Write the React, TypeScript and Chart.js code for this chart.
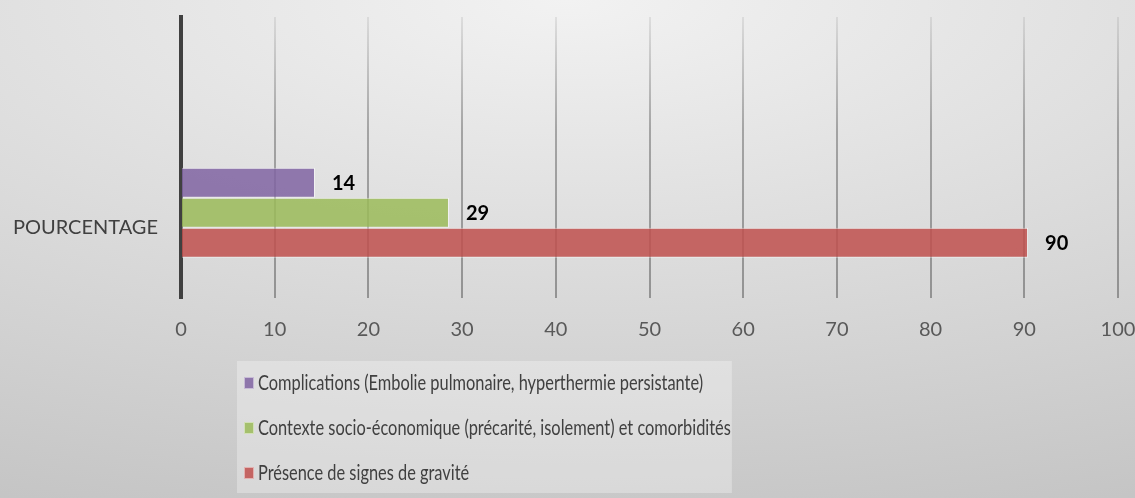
import { useEffect, useRef } from 'react';
import { Chart, registerables } from 'chart.js';

Chart.register(...registerables);

// ---- data ----
const categories = ['', 'POURCENTAGE'];
const seriesLabels = [
  'Complications (Embolie pulmonaire, hyperthermie persistante)',
  'Contexte socio-économique (précarité, isolement) et comorbidités',
  'Présence de signes de gravité',
];
const complications = [null, 14.3];
const contexte = [null, 28.6];
const gravite = [null, 90.4];
const emptySeries = [null, null];
const xMin = 0;
const xMax = 100;
const xStep = 10;

const seriesColors = ['rgba(128,100,162,0.85)', 'rgba(155,187,89,0.85)', 'rgba(192,80,77,0.85)'];

const FONT = 'Lato, "Open Sans", sans-serif';

const backgroundPlugin = {
  id: 'bgGradient',
  beforeDraw(chart: any) {
    const { ctx, width, height } = chart;
    const sx = 2.72;
    ctx.save();
    ctx.translate(width / 2, 0);
    ctx.scale(sx, 1);
    const g = ctx.createRadialGradient(0, 0, 0, 0, 0, 620);
    g.addColorStop(0, '#f2f2f2');
    g.addColorStop(1, '#bebebe');
    ctx.fillStyle = g;
    ctx.fillRect(-width / 2 / sx, 0, width / sx, height);
    ctx.restore();
  },
};

const valueLabelPlugin = {
  id: 'valueLabels',
  afterDatasetsDraw(chart: any) {
    const { ctx } = chart;
    ctx.save();
    ctx.font = `bold 20px ${FONT}`;
    ctx.fillStyle = '#000000';
    ctx.textAlign = 'left';
    ctx.textBaseline = 'middle';
    chart.data.datasets.forEach((ds: any, i: number) => {
      const meta = chart.getDatasetMeta(i);
      meta.data.forEach((el: any, j: number) => {
        const v = ds.data[j];
        if (v === null || v === undefined) return;
        ctx.fillText(String(Math.round(v)), el.x + 17, el.y + 1);
      });
    });
    ctx.restore();
  },
};

const legendPlugin = {
  id: 'customLegend',
  afterDraw(chart: any) {
    const { ctx } = chart;
    ctx.save();
    ctx.font = `21px ${FONT}`;
    const squeeze = 0.78;
    const boxLeft = 237;
    const boxTop = 361;
    const boxHeight = 132;
    const markerX = 244;
    const textX = 258;
    const rowY0 = 383;
    const rowGap = 45;
    const widths = seriesLabels.map((l) => ctx.measureText(l).width * squeeze);
    const boxRight = textX + Math.max(...widths) + 1;
    ctx.fillStyle = 'rgba(255,255,255,0.3)';
    ctx.fillRect(boxLeft, boxTop, boxRight - boxLeft, boxHeight);
    seriesLabels.forEach((label, i) => {
      const y = rowY0 + i * rowGap;
      ctx.fillStyle = seriesColors[i];
      ctx.fillRect(markerX, y - 6, 10, 12);
      ctx.strokeStyle = 'rgba(255,255,255,0.5)';
      ctx.lineWidth = 1;
      ctx.strokeRect(markerX + 0.5, y - 5.5, 9, 11);
      ctx.save();
      ctx.translate(textX, y);
      ctx.scale(squeeze, 1);
      ctx.fillStyle = '#404040';
      ctx.textAlign = 'left';
      ctx.textBaseline = 'middle';
      ctx.fillText(label, 0, 0);
      ctx.restore();
    });
    ctx.restore();
  },
};

export default function App() {
  const canvasRef = useRef<HTMLCanvasElement | null>(null);

  useEffect(() => {
    if (!canvasRef.current) return;
    const chart = new Chart(canvasRef.current, {
      type: 'bar',
      data: {
        labels: categories,
        datasets: [
          { label: seriesLabels[0], data: complications, backgroundColor: seriesColors[0] },
          { label: seriesLabels[1], data: contexte, backgroundColor: seriesColors[1] },
          { label: seriesLabels[2], data: gravite, backgroundColor: seriesColors[2] },
          { label: '', data: emptySeries, backgroundColor: 'rgba(0,0,0,0)' },
        ].map((d) => ({
          ...d,
          borderColor: 'rgba(255,255,255,0.55)',
          borderWidth: 1,
          barPercentage: 1,
          categoryPercentage: 0.854,
        })) as any,
      },
      options: {
        indexAxis: 'y',
        responsive: false,
        animation: false,
        layout: { padding: { left: 0, top: 17, right: 17, bottom: 150 } },
        plugins: {
          legend: { display: false },
          tooltip: { enabled: false },
        },
        scales: {
          x: {
            min: xMin,
            max: xMax,
            ticks: {
              stepSize: xStep,
              padding: 20,
              color: '#595959',
              font: { family: FONT, size: 20 },
            },
            border: { display: false },
            grid: {
              drawTicks: false,
              lineWidth: 2,
              color: (c: any) => {
                if (c.tick && c.tick.value === 0) return 'rgba(0,0,0,0)';
                const ch = c.chart;
                const area = ch.chartArea;
                if (!area) return 'rgba(128,128,128,0.6)';
                const g = ch.ctx.createLinearGradient(0, area.top, 0, area.bottom);
                g.addColorStop(0, 'rgba(120,120,120,0.15)');
                g.addColorStop(0.4, 'rgba(120,120,120,0.6)');
                g.addColorStop(1, 'rgba(120,120,120,0.72)');
                return g;
              },
            },
            afterFit: (scale: any) => {
              scale.height = 50;
              scale.paddingLeft = 0;
              scale.paddingRight = 0;
              scale.paddingTop = 0;
              scale.paddingBottom = 0;
            },
          },
          y: {
            ticks: {
              padding: 23,
              color: '#404040',
              font: { family: FONT, size: 20 },
            },
            grid: { display: false, drawTicks: false },
            border: { display: true, color: '#404040', width: 4 },
            afterFit: (scale: any) => {
              scale.width = 181;
              scale.paddingLeft = 0;
              scale.paddingRight = 0;
              scale.paddingTop = 0;
              scale.paddingBottom = 0;
            },
          },
        },
      } as any,
      plugins: [backgroundPlugin, valueLabelPlugin, legendPlugin],
    });
    return () => chart.destroy();
  }, []);

  return (
    <div style={{ position: 'fixed', left: 0, top: 0, width: 1135, height: 498 }}>
      <canvas ref={canvasRef} width={1135} height={498} style={{ display: 'block' }} />
    </div>
  );
}
